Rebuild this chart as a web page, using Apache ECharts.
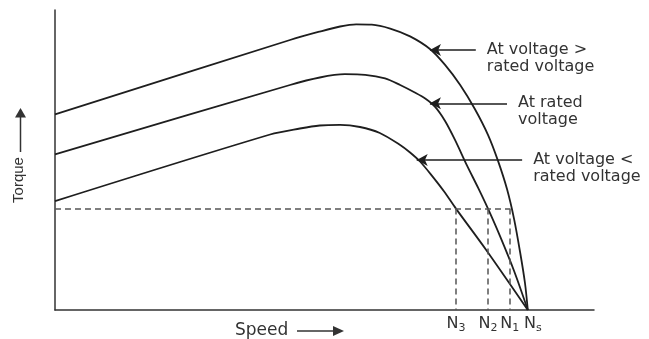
<!DOCTYPE html>
<html lang="en">
<head>
    <meta charset="UTF-8">
    <script src="https://cdn.jsdelivr.net/npm/echarts@6/dist/echarts.min.js"></script>
    <style>
        html, body { margin: 0; padding: 0; background: #fff; }
    </style>
</head>
<body>
<div id="torque" style="width: 649px;height: 339px"></div>

<script>
    // speed (Ns = 100) , torque (0..100)
    var aboveRated = [[0, 65.2], [49.7, 90.0], [56.0, 92.8], [60.3, 94.5], [63.7, 95.2], [67.0, 95.1],
        [70.9, 93.8], [75.1, 91.2], [79.3, 87.0], [82.5, 81.7], [85.7, 75.0], [88.8, 67.0],
        [91.6, 58.3], [93.7, 49.7], [95.6, 40.3], [97.1, 30.3], [98.4, 19.0], [99.4, 9.0], [100, 0]];
    var rated = [[0, 51.9], [49.7, 75.0], [56.0, 77.5], [61.3, 78.6], [65.6, 78.4], [69.8, 77.2],
        [73.0, 75.0], [76.1, 72.5], [78.3, 70.5], [80.4, 67.7], [82.5, 63.0], [84.6, 56.7],
        [87.1, 48.3], [89.5, 40.7], [91.6, 33.7], [94.1, 24.7], [97.1, 13.0], [100, 0]];
    var belowRated = [[0, 36.3], [45.5, 58.5], [51.8, 60.5], [56.0, 61.5], [60.3, 61.7], [64.5, 61.0],
        [68.7, 59.0], [73.0, 55.0], [75.1, 52.5], [77.2, 49.5], [79.7, 44.8], [82.3, 39.5],
        [84.8, 33.8], [91.2, 20.0], [100, 0]];

    // speeds N3, N2, N1, Ns and the load torque (dashed lines)
    var speedMarks = [84.8, 91.6, 96.2, 100];
    var speedSubs = ['3', '2', '1', 's'];
    var loadTorque = 33.8;

    // arrows: [tip x, tail x, y] and their texts
    var arrowAbove = [79.3, 89.0, 86.7];
    var arrowRated = [79.3, 95.6, 68.9];
    var arrowBelow = [76.5, 98.8, 50.0];
    var textAbove = 'At voltage >\nrated voltage';
    var textRated = 'At rated\nvoltage';
    var textBelow = 'At voltage <\nrated voltage';

    var ink = '#1e1e1e';
    var textColor = '#333';

    function arrowItem(a, text) {
        return [
            {
                coord: [a[0], a[2]], symbol: 'arrow', symbolSize: [9, 11],
                lineStyle: {color: ink, width: 1.5, type: 'solid'},
                label: {
                    show: true,
                    position: 'end',
                    distance: 11,
                    // empty first line so the first text line sits on the arrow
                    formatter: '\n' + text,
                    color: textColor,
                    fontFamily: 'DejaVu Sans',
                    fontSize: 16,
                    lineHeight: 17
                }
            },
            {coord: [a[1], a[2]], symbol: 'none'}
        ];
    }

    function dashItem(from, to) {
        return [
            {coord: from, label: {show: false}, lineStyle: {color: '#555', width: 1.5, type: [6, 4]}},
            {coord: to}
        ];
    }

    function curve(name, data, arrow, text) {
        return {
            name: name,
            type: 'line',
            data: data,
            smooth: 0.3,
            showSymbol: false,
            lineStyle: {color: ink, width: 1.8},
            markLine: {
                silent: true,
                symbol: 'none',
                data: [arrowItem(arrow, text)]
            }
        };
    }

    var dashed = [dashItem([0, loadTorque], [speedMarks[2], loadTorque])];
    for (var i = 0; i < 3; i++) {
        dashed.push(dashItem([speedMarks[i], loadTorque], [speedMarks[i], 0]));
    }

    // N labels under the speed axis (Ns sits a little to the right in the original)
    var speedLabels = speedMarks.map(function (v, k) {
        var item = {coord: [v, 0], value: speedSubs[k]};
        if (speedSubs[k] === 's') item.label = {offset: [5, 0]};
        return item;
    });

    var below = curve('At voltage < rated voltage', belowRated, arrowBelow, textBelow);
    below.markLine.data = below.markLine.data.concat(dashed);
    below.markPoint = {
        silent: true,
        symbol: 'circle',
        symbolSize: 0,
        label: {
            show: true,
            position: 'bottom',
            distance: 4,
            formatter: function (p) {
                return '{n|N}{s|' + p.value + '}';
            },
            rich: {
                n: {fontFamily: 'DejaVu Sans', fontSize: 16, color: textColor, lineHeight: 18},
                s: {fontFamily: 'DejaVu Sans', fontSize: 11, color: textColor, padding: [9, 0, 0, 0]}
            }
        },
        data: speedLabels
    };

    var chart = echarts.init(document.getElementById('torque'));
    var option = {
        animation: false,
        backgroundColor: '#fff',
        grid: {left: 55, right: 55, top: 10, bottom: 29},
        xAxis: {
            type: 'value',
            min: 0,
            max: 114,
            axisLine: {show: true, lineStyle: {color: '#333', width: 1.5}},
            axisTick: {show: false},
            axisLabel: {show: false},
            splitLine: {show: false}
        },
        yAxis: {
            type: 'value',
            min: 0,
            max: 100,
            axisLine: {show: true, lineStyle: {color: '#333', width: 1.5}},
            axisTick: {show: false},
            axisLabel: {show: false},
            splitLine: {show: false}
        },
        series: [
            curve('At voltage > rated voltage', aboveRated, arrowAbove, textAbove),
            curve('At rated voltage', rated, arrowRated, textRated),
            below
        ],
        graphic: [
            // axis titles with their arrows
            {type: 'text', x: 18.5, y: 180, rotation: Math.PI / 2,
                style: {text: 'Torque', fill: textColor, font: '15px "Liberation Sans"', align: 'center', verticalAlign: 'middle'}},
            {type: 'line', shape: {x1: 20.5, y1: 152, x2: 20.5, y2: 116}, style: {stroke: '#333', lineWidth: 1.5}},
            {type: 'polygon', shape: {points: [[20.5, 108], [15, 117.5], [26, 117.5]]}, style: {fill: '#333'}},
            {type: 'text', x: 235, y: 331,
                style: {text: 'Speed', fill: textColor, font: '17px "DejaVu Sans"', align: 'left', verticalAlign: 'middle'}},
            {type: 'line', shape: {x1: 297, y1: 331, x2: 335, y2: 331}, style: {stroke: '#333', lineWidth: 1.5}},
            {type: 'polygon', shape: {points: [[344, 331], [333, 326], [333, 336]]}, style: {fill: '#333'}}
        ]
    };
    chart.setOption(option);
</script>
</body>
</html>
